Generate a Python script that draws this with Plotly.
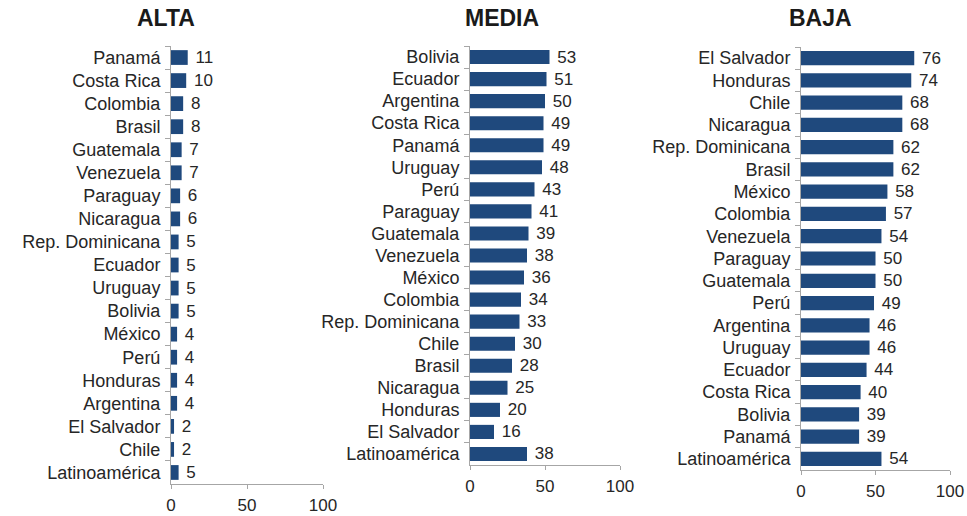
import plotly.graph_objects as go

alta_countries = ["Panamá", "Costa Rica", "Colombia", "Brasil", "Guatemala", "Venezuela", "Paraguay",
                  "Nicaragua", "Rep. Dominicana", "Ecuador", "Uruguay", "Bolivia", "México", "Perú",
                  "Honduras", "Argentina", "El Salvador", "Chile", "Latinoamérica"]
alta_values = [11, 10, 8, 8, 7, 7, 6, 6, 5, 5, 5, 5, 4, 4, 4, 4, 2, 2, 5]

media_countries = ["Bolivia", "Ecuador", "Argentina", "Costa Rica", "Panamá", "Uruguay", "Perú",
                   "Paraguay", "Guatemala", "Venezuela", "México", "Colombia", "Rep. Dominicana",
                   "Chile", "Brasil", "Nicaragua", "Honduras", "El Salvador", "Latinoamérica"]
media_values = [53, 51, 50, 49, 49, 48, 43, 41, 39, 38, 36, 34, 33, 30, 28, 25, 20, 16, 38]

baja_countries = ["El Salvador", "Honduras", "Chile", "Nicaragua", "Rep. Dominicana", "Brasil",
                  "México", "Colombia", "Venezuela", "Paraguay", "Guatemala", "Perú", "Argentina",
                  "Uruguay", "Ecuador", "Costa Rica", "Bolivia", "Panamá", "Latinoamérica"]
baja_values = [76, 74, 68, 68, 62, 62, 58, 57, 54, 50, 50, 49, 46, 46, 44, 40, 39, 39, 54]

titles = ["ALTA", "MEDIA", "BAJA"]
x_ticks = [0, 50, 100]

W, H = 967, 516
BAR = "#1F497D"
FONT = "Liberation Sans, Arial, sans-serif"
TXT = "#262626"

# panel pixel boxes: (x0, x1, ytop, ybottom, title_x)
boxes = [(171, 323, 46, 484, 166), (470, 620, 46, 465, 502), (801, 950, 47, 470, 820)]
data = [(alta_countries, alta_values), (media_countries, media_values), (baja_countries, baja_values)]

fig = go.Figure()
for i, ((cats, vals), (x0, x1, yt, yb, tx)) in enumerate(zip(data, boxes)):
    n = "" if i == 0 else str(i + 1)
    fig.add_trace(go.Bar(
        x=vals, y=cats, orientation="h", marker=dict(color=BAR, line=dict(width=0)),
        width=0.64, texttemplate=" %{x}", textposition="outside", constraintext="none",
        textfont=dict(size=17, color=TXT, family=FONT), cliponaxis=False,
        xaxis="x" + n, yaxis="y" + n, showlegend=False, hoverinfo="skip"))
    fig.layout["xaxis" + n] = dict(
        domain=[x0 / W, x1 / W], range=[0, 100], tickvals=x_ticks, anchor="y" + n,
        showgrid=False, zeroline=False, showline=True, linecolor="#A6A6A6", linewidth=1,
        ticks="outside", ticklen=4, tickcolor="#A6A6A6", ticklabelstandoff=2,
        automargin=False,
        tickfont=dict(size=17, color=TXT, family=FONT), fixedrange=True)
    fig.layout["yaxis" + n] = dict(
        domain=[1 - yb / H, 1 - yt / H], anchor="x" + n, type="category",
        categoryorder="array", categoryarray=cats, autorange="reversed",
        showgrid=False, zeroline=False, showline=True, linecolor="#A6A6A6", linewidth=1,
        ticks="outside", ticklen=5, tickcolor="#A6A6A6", tickson="boundaries",
        ticklabelstandoff=6, automargin=False,
        tickfont=dict(size=18, color=TXT, family=FONT), fixedrange=True)
    fig.add_annotation(text="<b>" + titles[i] + "</b>", x=tx / W, y=1 - 18 / H,
                       xref="paper", yref="paper", showarrow=False,
                       font=dict(size=23, color="#1a1a1a", family=FONT),
                       xanchor="center", yanchor="middle")

fig.update_layout(width=W, height=H, margin=dict(l=0, r=0, t=0, b=0, autoexpand=False),
                  plot_bgcolor="white", paper_bgcolor="white", bargap=0.36)
fig.write_html("out.html", config={"displayModeBar": False},
               post_script="document.body.style.margin='0';document.body.style.overflow='hidden';")
